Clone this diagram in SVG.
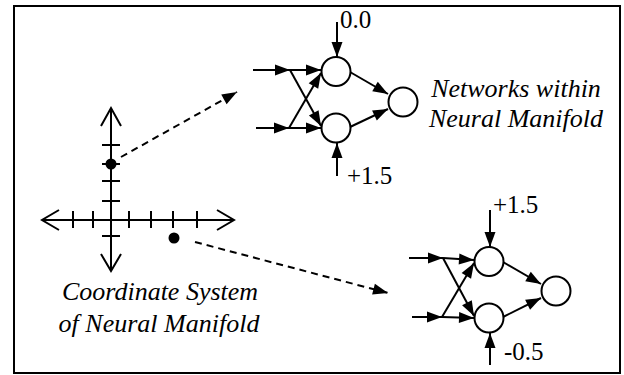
<svg xmlns="http://www.w3.org/2000/svg" width="624" height="375" viewBox="0 0 624 375">
<style>
.ln{stroke:#000;stroke-width:2;fill:none}
.ar{stroke:#000;stroke-width:2;fill:none;marker-end:url(#ah)}
.da{stroke:#000;stroke-width:2;fill:none;stroke-dasharray:7,5;marker-end:url(#ah)}
.nd{stroke:#000;stroke-width:2;fill:#fff}
.lab{font-family:"Liberation Serif","Times New Roman",serif;font-style:italic;font-size:26px;fill:#000}
.num{font-family:"Liberation Serif","Times New Roman",serif;font-size:25px;fill:#000}
</style>
<defs>
<marker id="ah" markerUnits="userSpaceOnUse" markerWidth="16" markerHeight="12" refX="15" refY="5.5" orient="auto" overflow="visible">
<path d="M0,0 L15,5.5 L0,11 z" fill="#000" stroke="none"/>
</marker>
</defs>
<rect x="14" y="6" width="606" height="367" fill="#fff" stroke="#000" stroke-width="2"/>

<g id="axes">
<path class="ln" d="M42,220 H234 M111,108 V271"/>
<path class="ln" d="M59,210 L42,220 L59,230 M217,210 L234,220 L217,230 M101,126 L111,108 L121,126 M101,254 L111,271 L121,254"/>
<path class="ln" d="M73,211 V228 M93,211 V228 M129,211 V228 M151,211 V228 M173,211 V228 M197,211 V228"/>
<path class="ln" d="M102,145 H120 M102,164 H120 M102,181 H120 M102,201 H120 M102,236 H120"/>
<circle cx="111" cy="164" r="5.5" fill="#000"/>
<circle cx="174" cy="238" r="5.5" fill="#000"/>
</g>

<g id="connectors">
<path class="da" d="M121,157 L237,92"/>
<path class="da" d="M195,242 L388,293"/>
<g id="net1-edges">
<path class="ar" d="M253,70 L290,70"/>
<path class="ar" d="M290,70 L321,70"/>
<path class="ar" d="M256,128 L289,128"/>
<path class="ar" d="M289,128 L321,128"/>
<path class="ar" d="M290,70 L321,126"/>
<path class="ar" d="M289,128 L321,73"/>
<path class="ar" d="M350,72 L388,94"/>
<path class="ar" d="M350,127 L388,109"/>
<path class="ar" d="M337,22 L337,57"/>
<path class="ar" d="M337,176 L337,143"/>
</g>
<g id="net2-edges" transform="translate(153,190)">
<path class="ar" d="M256,68 L290,68"/>
<path class="ar" d="M290,68 L321,70"/>
<path class="ar" d="M259,127 L289,127"/>
<path class="ar" d="M289,127 L321,128"/>
<path class="ar" d="M290,68 L321,126"/>
<path class="ar" d="M289,127 L321,73"/>
<path class="ar" d="M350,72 L388,94"/>
<path class="ar" d="M350,127 L388,108"/>
<path class="ar" d="M337,20 L337,57"/>
<path class="ar" d="M337,175 L337,143"/>
</g>
</g>

<g id="n1-top"><circle class="nd" cx="336" cy="71.5" r="14.5"/></g>
<g id="n1-bottom"><circle class="nd" cx="336" cy="128" r="14.5"/></g>
<g id="n1-out"><circle class="nd" cx="403" cy="102" r="14.5"/></g>
<g id="n2-top"><circle class="nd" cx="489" cy="261.5" r="14.5"/></g>
<g id="n2-bottom"><circle class="nd" cx="489" cy="318" r="14.5"/></g>
<g id="n2-out"><circle class="nd" cx="556" cy="291" r="14.5"/></g>

<g id="labels">
<text class="num" x="340" y="28">0.0</text>
<text class="num" x="347" y="184">+1.5</text>
<text class="num" x="493" y="213">+1.5</text>
<text class="num" x="504" y="360">-0.5</text>
<text class="lab" x="516" y="97" text-anchor="middle">Networks within</text>
<text class="lab" x="516" y="127" text-anchor="middle">Neural Manifold</text>
<text class="lab" x="160" y="300" text-anchor="middle">Coordinate System</text>
<text class="lab" x="159" y="332" text-anchor="middle">of Neural Manifold</text>
</g>
</svg>
